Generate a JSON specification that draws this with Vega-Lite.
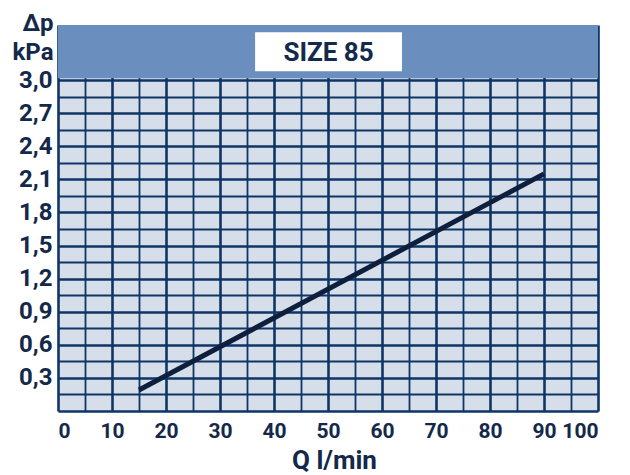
{
  "$schema": "https://vega.github.io/schema/vega-lite/v6.json",
  "autosize": {"type": "none"},
  "padding": {"left": 58, "top": 25, "right": 32, "bottom": 64},
  "width": 540,
  "height": 386,
  "background": "white",
  "config": {
    "view": {"stroke": null, "fill": "#d6deea"},
    "axis": {
      "domain": false,
      "ticks": false,
      "labelOverlap": false,
      "tickCount": 200,
      "gridColor": "#0e3566",
      "gridOpacity": 1,
      "labelFont": "Roboto",
      "labelFontWeight": "bold",
      "labelFontSize": 24,
      "labelColor": "#14284a",
      "titleFont": "Roboto",
      "titleFontWeight": "bold",
      "titleFontSize": 26,
      "titleColor": "#14284a"
    }
  },
  "layer": [
    {
      "data": {"values": [{}]},
      "mark": {"type": "rect", "color": "#6a8ebd"},
      "encoding": {
        "x": {"datum": 0, "type": "quantitative"},
        "x2": {"datum": 100},
        "y": {"datum": 3.018, "type": "quantitative"},
        "y2": {"datum": 3.5}
      }
    },
    {
      "data": {"values": [{}]},
      "mark": {"type": "rect", "color": "white"},
      "encoding": {
        "x": {"datum": 36.5, "type": "quantitative"},
        "x2": {"datum": 63.7},
        "y": {"datum": 3.08, "type": "quantitative"},
        "y2": {"datum": 3.435}
      }
    },
    {
      "data": {"values": [{"label": "SIZE 85"}]},
      "mark": {"type": "text", "font": "Roboto", "fontWeight": "bold", "fontSize": 26, "color": "#132a4c", "baseline": "middle", "align": "center"},
      "encoding": {
        "x": {"datum": 50.1, "type": "quantitative"},
        "y": {"datum": 3.245, "type": "quantitative"},
        "text": {"field": "label"}
      }
    },
    {
      "data": {"values": [{"Q": 15, "dp": 0.19}, {"Q": 90, "dp": 2.15}]},
      "mark": {"type": "line", "color": "#0d1f3c", "strokeWidth": 5, "strokeCap": "butt"},
      "encoding": {
        "x": {
          "field": "Q", "type": "quantitative",
          "scale": {"domain": [0, 100], "nice": false, "zero": false},
          "axis": {
            "values": [0,5,10,15,20,25,30,35,40,45,50,55,60,65,70,75,80,85,90,95,100],
            "labelExpr": "datum.value % 10 === 0 ? format(datum.value, 'd') : ''",
            "labelPadding": 9,
            "labelFontSize": 21,
            "grid": true,
            "gridWidth": {"condition": {"test": "datum.value % 10 === 0", "value": 2.6}, "value": 1.8},
            "title": "Q  l/min",
            "titleX": 276,
            "titleY": 36,
            "titleBaseline": "top"
          }
        },
        "y": {
          "field": "dp", "type": "quantitative",
          "scale": {"domain": [0, 3.5], "nice": false, "zero": false},
          "axis": {
            "values": [0,0.15,0.3,0.45,0.6,0.75,0.9,1.05,1.2,1.35,1.5,1.65,1.8,1.95,2.1,2.25,2.4,2.55,2.7,2.85,3.0],
            "labelExpr": "(round(datum.value*100) % 30 === 0 && datum.value > 0) ? replace(format(datum.value, '.1f'), '.', ',') : ''",
            "labelPadding": 6,
            "grid": true,
            "gridWidth": {"condition": {"test": "round(datum.value*100) % 30 === 0", "value": 2.6}, "value": 1.8},
            "title": ["Δp", "kPa"],
            "titleAngle": 0,
            "titleAlign": "right",
            "titleBaseline": "alphabetic",
            "titleX": -5,
            "titleY": 5,
            "titleFontSize": 24,
            "titleLineHeight": 29
          }
        }
      }
    }
  ]
}
